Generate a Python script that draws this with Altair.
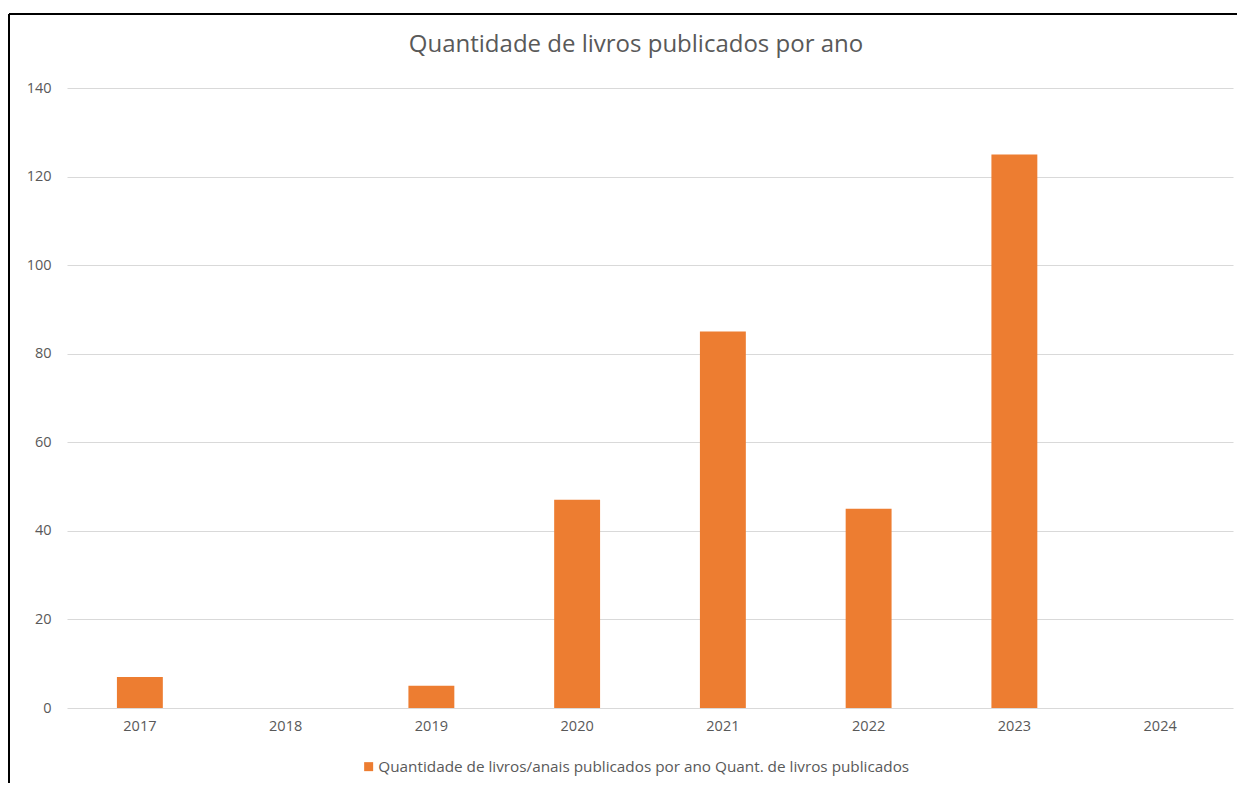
import altair as alt
import pandas as pd

anos = ["2017", "2018", "2019", "2020", "2021", "2022", "2023", "2024"]
quantidades = [7, 0, 5, 47, 85, 45, 125, 0]
serie = "Quantidade de livros/anais publicados por ano Quant. de livros publicados"

df = pd.DataFrame({"Ano": anos, "Quantidade": quantidades, "Serie": [serie] * len(anos)})

FONT = "Open Sans"
GREY = "#595959"

bars = alt.Chart(df).mark_bar(color="#ED7D31", width=alt.RelativeBandSize(0.315)).encode(
    x=alt.X("Ano:N", sort=anos,
            scale=alt.Scale(paddingInner=0, paddingOuter=0),
            axis=alt.Axis(title=None, labelAngle=0, domain=False, ticks=False,
                          labelPadding=11, labelFontSize=14.5, labelColor=GREY, labelFont=FONT)),
    y=alt.Y("Quantidade:Q", scale=alt.Scale(domain=[0, 140], nice=False),
            axis=alt.Axis(title=None, values=[0, 20, 40, 60, 80, 100, 120, 140],
                          domain=False, ticks=False, labelPadding=16, labelFontSize=14.5,
                          labelColor=GREY, labelFont=FONT, gridColor="#d9d9d9", gridWidth=1)),
    color=alt.Color("Serie:N", scale=alt.Scale(range=["#ED7D31"]),
                    legend=alt.Legend(title=None, orient="none", legendX=294, legendY=671,
                                      symbolType="square", symbolSize=81, labelFontSize=15.3,
                                      labelColor=GREY, labelFont=FONT, labelLimit=900,
                                      symbolStrokeWidth=0, labelOffset=2)),
)

border_df = pd.DataFrame({"k": [0]})
left_border = alt.Chart(border_df).mark_rule(color="black", strokeWidth=2, clip=False).encode(
    x=alt.value(-58), y=alt.value(-74), y2=alt.value(700))
top_border = alt.Chart(border_df).mark_rule(color="black", strokeWidth=2, clip=False).encode(
    x=alt.value(-58), x2=alt.value(1170), y=alt.value(-74))

chart = alt.layer(bars, left_border, top_border).properties(
    width=1166, height=620,
    title=alt.TitleParams("Quantidade de livros publicados por ano", fontSize=24,
                          font=FONT, fontWeight="normal", color=GREY, anchor="middle",
                          dx=-14, offset=-63, baseline="alphabetic"),
    padding={"left": 59, "top": 80, "right": 4, "bottom": 75},
    autosize=alt.AutoSizeParams(type="none"),
).configure_view(stroke=None).configure_axisX(grid=False)

chart.save("out.html", embed_options={"renderer": "svg", "actions": False})
